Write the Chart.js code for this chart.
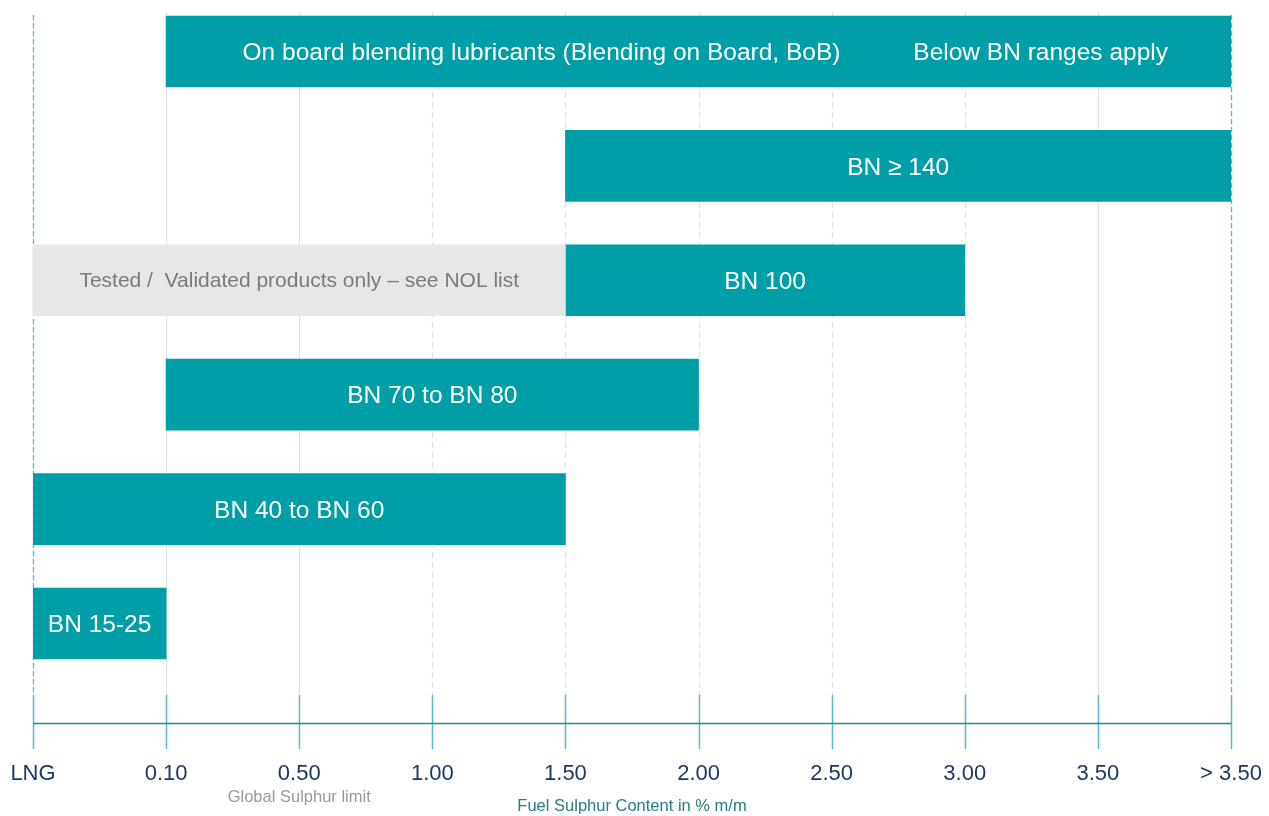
<!DOCTYPE html>
<html lang="en">
<head>
  <meta charset="UTF-8">
  <title>Cylinder oil BN vs fuel sulphur content</title>
  <style>
    body {
      margin: 0;
      background: #fff;
    }
    #wrap {
      position: relative;
      width: 1269px;
      height: 816px;
    }
  </style>
  <script src="https://cdn.jsdelivr.net/npm/chart.js"></script>
</head>
<body>
  <div id="wrap"><canvas id="bnChart"></canvas></div>

  <script>
    // x axis steps (evenly spaced, so the scale runs on the step index)
    const tickLabels = ['LNG', '0.10', '0.50', '1.00', '1.50', '2.00', '2.50', '3.00', '3.50', '> 3.50'];

    // one row per lubricant band, top to bottom
    const rowNames = ['BoB', 'BN ≥ 140', 'BN 100', 'BN 70 to BN 80', 'BN 40 to BN 60', 'BN 15-25'];
    const bandFrom = [1, 4, 4, 1, 0, 0];
    const bandTo = [9, 9, 7, 5, 4, 1];
    const bandText = [null, 'BN ≥ 140', 'BN 100', 'BN 70 to BN 80', 'BN 40 to BN 60', 'BN 15-25'];

    // the BoB row carries two notes instead of one centred label
    const bobNotes = ['On board blending lubricants (Blending on Board, BoB)', 'Below BN ranges apply'];
    const bobNoteAt = [3.82, 7.57];

    // grey "validated only" part of the BN 100 row
    const nolRow = 2;
    const nolFrom = 0;
    const nolTo = 4;
    const nolText = 'Tested /  Validated products only \u2013 see NOL list';

    const limitTick = 2;
    const limitText = 'Global Sulphur limit';
    const axisTitle = 'Fuel Sulphur Content in % m/m';

    const TEAL = '#009fa7';
    const FONT = "'Liberation Sans', Arial, sans-serif";

    // grid lines, axis line, tick marks and all in-bar text
    const decor = {
      id: 'decor',
      beforeDatasetsDraw(chart) {
        const { ctx, chartArea, scales: { x } } = chart;
        const last = tickLabels.length - 1;
        ctx.save();
        tickLabels.forEach((t, i) => {
          const px = Math.round(x.getPixelForValue(i)) + 0.5;
          const edge = i === 0 || i === last;
          const dashed = edge || (i >= 3 && i <= 7);
          ctx.strokeStyle = edge ? '#5bb8c7' : '#e1e1e1';
          ctx.lineWidth = edge ? 1.4 : 1.2;
          ctx.setLineDash(dashed ? (edge ? [5, 3] : [6, 4]) : []);
          ctx.beginPath();
          ctx.moveTo(px, chartArea.top + (edge ? 15 : 12));
          ctx.lineTo(px, chartArea.bottom - 28);
          ctx.stroke();
        });
        ctx.restore();
      },
      afterDatasetsDraw(chart) {
        const { ctx, scales: { x } } = chart;
        const teal = chart.getDatasetMeta(1).data;
        const grey = chart.getDatasetMeta(0).data;
        ctx.save();
        ctx.textAlign = 'center';
        ctx.textBaseline = 'middle';
        ctx.fillStyle = '#ffffff';
        ctx.font = '24.5px ' + FONT;
        teal.forEach((bar, i) => {
          if (!bandText[i]) return;
          const c = bar.getCenterPoint();
          ctx.fillText(bandText[i], c.x, c.y + 2);
        });
        bobNotes.forEach((t, k) => {
          ctx.fillText(t, x.getPixelForValue(bobNoteAt[k]), teal[0].y + 2);
        });
        const g = grey[0].getCenterPoint();
        ctx.fillStyle = '#7a7a7a';
        ctx.font = '21px ' + FONT;
        ctx.fillText(nolText, g.x, g.y + 1);
        ctx.restore();
      },
      afterDraw(chart) {
        const { ctx, chartArea, scales: { x } } = chart;
        const yAxis = chartArea.bottom;
        ctx.save();
        // tick marks crossing the axis line
        ctx.strokeStyle = '#5bb8c7';
        ctx.lineWidth = 1.5;
        tickLabels.forEach((t, i) => {
          const px = Math.round(x.getPixelForValue(i)) + 0.5;
          ctx.beginPath();
          ctx.moveTo(px, yAxis - 28);
          ctx.lineTo(px, yAxis + 26);
          ctx.stroke();
        });
        // axis line
        ctx.strokeStyle = '#1a8c9c';
        ctx.lineWidth = 1.5;
        ctx.beginPath();
        ctx.moveTo(x.getPixelForValue(0), yAxis + 0.5);
        ctx.lineTo(x.getPixelForValue(tickLabels.length - 1), yAxis + 0.5);
        ctx.stroke();
        // note under the 0.50 tick
        ctx.fillStyle = '#9a9a9a';
        ctx.font = '16.5px ' + FONT;
        ctx.textAlign = 'center';
        ctx.textBaseline = 'middle';
        ctx.fillText(limitText, x.getPixelForValue(limitTick), yAxis + 74);
        ctx.restore();
      }
    };

    const ctx = document.getElementById('bnChart').getContext('2d');

    const bnChart = new Chart(ctx, {
      type: 'bar',
      data: {
        datasets: [
          {
            label: 'Validated products only',
            data: [{ x: [nolFrom, nolTo], y: nolRow }],
            backgroundColor: '#e6e7e8',
            grouped: false,
            barThickness: 71
          },
          {
            label: 'BN range',
            data: rowNames.map((n, i) => ({ x: [bandFrom[i], bandTo[i]], y: i })),
            backgroundColor: TEAL,
            grouped: false,
            barThickness: 71
          }
        ]
      },
      options: {
        indexAxis: 'y',
        responsive: true,
        maintainAspectRatio: false,
        animation: false,
        layout: {
          padding: { left: 33, right: 38, top: 0, bottom: 0 }
        },
        plugins: {
          legend: { display: false },
          tooltip: { enabled: false }
        },
        scales: {
          x: {
            type: 'linear',
            min: 0,
            max: tickLabels.length - 1,
            grid: { display: false },
            border: { display: false },
            ticks: {
              stepSize: 1,
              autoSkip: false,
              maxRotation: 0,
              padding: 30,
              color: '#1c3a66',
              font: { family: FONT, size: 22 },
              callback: (v) => tickLabels[v]
            },
            title: {
              display: true,
              text: axisTitle,
              color: '#2b7c84',
              font: { family: FONT, size: 16.5 },
              padding: { top: 0, bottom: 0 }
            },
            afterFit: (scale) => {
              scale.height = 93;
              scale.paddingLeft = 0;
              scale.paddingRight = 0;
            }
          },
          y: {
            type: 'linear',
            display: false,
            offset: false,
            reverse: true,
            min: -0.45,
            max: 5.87
          }
        }
      },
      plugins: [decor]
    });
  </script>
</body>
</html>
